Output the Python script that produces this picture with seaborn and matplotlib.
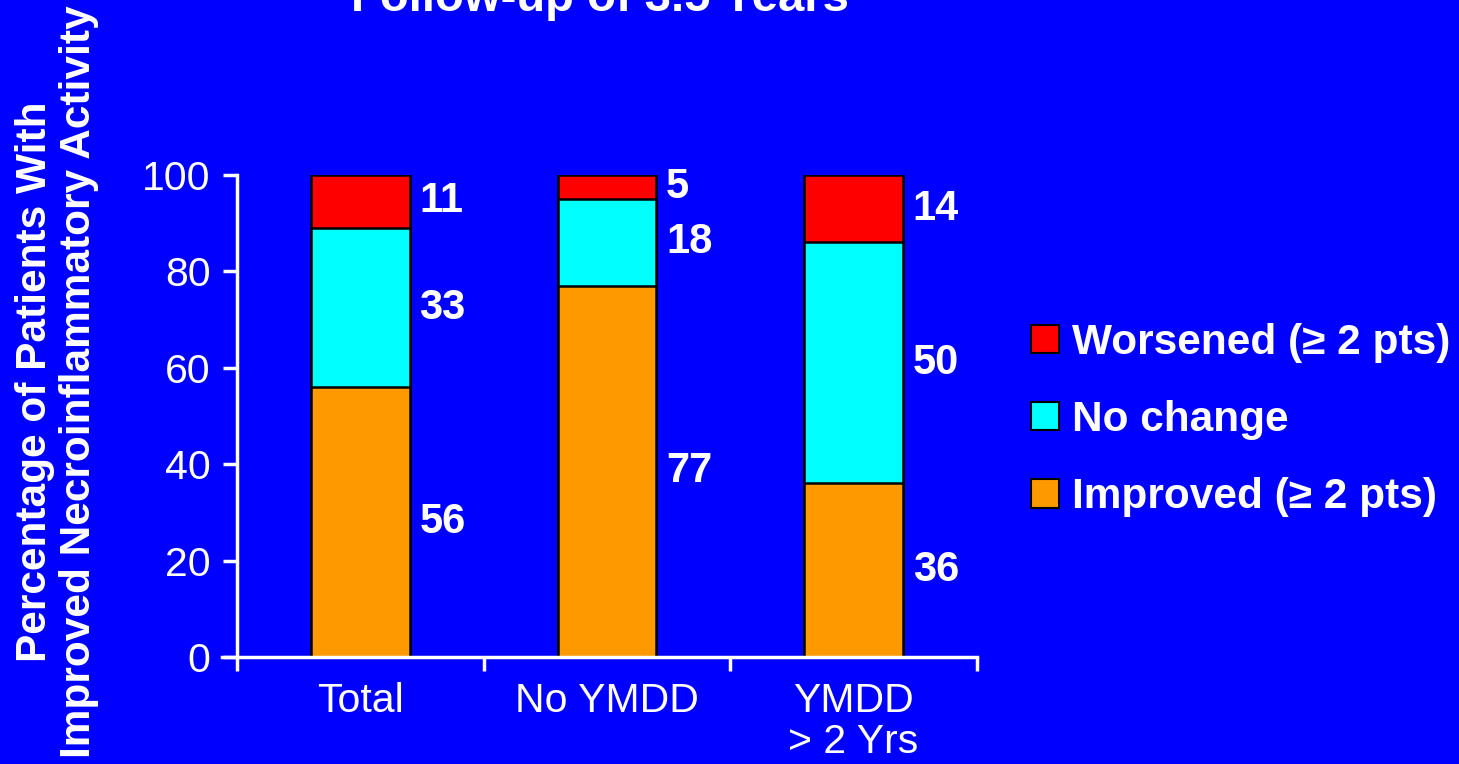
import numpy as np
import matplotlib
matplotlib.use("Agg")
import matplotlib.pyplot as plt
from matplotlib.patches import Patch
import seaborn as sns

# data
groups    = ["Total", "No YMDD", "YMDD\n> 2 Yrs"]
improved  = [56, 77, 36]
no_change = [33, 18, 50]
worsened  = [11, 5, 14]
series_names = ["Worsened (\u2265 2 pts)", "No change", "Improved (\u2265 2 pts)"]
y_ticks = [0, 20, 40, 60, 80, 100]

BLUE   = "#0000FF"
RED    = "#FF0000"
CYAN   = "#00FFFF"
ORANGE = "#FF9900"

sns.set_style("white")
plt.rcParams["font.family"] = ["Liberation Sans", "DejaVu Sans"]

fig = plt.figure(figsize=(14.59, 7.64), dpi=100, facecolor=BLUE)
ax = fig.add_axes([0.1624, 0.1401, 0.5072, 0.6309])
ax.set_facecolor(BLUE)

imp = np.array(improved)
mid = imp + np.array(no_change)
top = mid + np.array(worsened)

# stacked look: draw cumulative totals, tallest first
for vals, col in [(top, RED), (mid, CYAN), (imp, ORANGE)]:
    sns.barplot(x=groups, y=vals, color=col, saturation=1, width=0.4,
                edgecolor="black", linewidth=1.8, errorbar=None, ax=ax)

# value labels beside each segment
for i in range(len(groups)):
    bottoms = [0, imp[i], mid[i]]
    for b, v in zip(bottoms, [improved[i], no_change[i], worsened[i]]):
        ax.annotate(str(v), xy=(i + 0.2, b + v / 2), xytext=(7, 0),
                    textcoords="offset points", ha="left", va="center",
                    fontsize=30, fontweight="bold", color="white")

ax.set_xlim(-0.5, 2.5)
ax.set_ylim(0, 100)
ax.set_xticks([-0.5, 0.5, 1.5, 2.5], labels=["", "", "", ""])
ax.set_xticks([0, 1, 2], labels=groups, minor=True)
ax.set_yticks(y_ticks)
ax.tick_params(axis="x", which="major", direction="out", length=10, width=2.5,
               color="white", bottom=True)
ax.tick_params(axis="x", which="minor", length=0, pad=18, labelsize=29.5,
               labelcolor="white")
for lab in ax.get_xticklabels(minor=True):
    lab.set_linespacing(1.1)
ax.tick_params(axis="y", direction="out", length=10, width=2.5, color="white",
               labelsize=29.5, labelcolor="white", pad=9, left=True)
ax.set_xlabel("")
ax.set_ylabel("")
for s in ["top", "right"]:
    ax.spines[s].set_visible(False)
for s in ["left", "bottom"]:
    ax.spines[s].set_color("white")
    ax.spines[s].set_linewidth(2.5)
ax.spines["bottom"].set_bounds(-0.56, 2.5)

handles = [Patch(facecolor=c, edgecolor="black", linewidth=1.5)
           for c in [RED, CYAN, ORANGE]]
fig.legend(handles, series_names, loc="center left",
           bbox_to_anchor=(1031 / 1459, 1 - 420 / 764), frameon=False,
           prop={"size": 30.5, "weight": "bold"}, labelcolor="white",
           handlelength=0.66, handleheight=0.66, handletextpad=0.3,
           labelspacing=0.88, borderpad=0, borderaxespad=0)

fig.text(600 / 1459, 1 - 11 / 764, "Follow-up of 3.5 Years", ha="center",
         va="baseline", fontsize=34, fontweight="bold", color="white")
fig.text(57 / 1459, 0.5,
         "Percentage of Patients With\nImproved Necroinflammatory Activity",
         rotation=90, ha="center", va="center", multialignment="center",
         fontsize=30.5, fontweight="bold", color="white", linespacing=1.15)

fig.savefig("out.png", dpi=100, facecolor=BLUE)
